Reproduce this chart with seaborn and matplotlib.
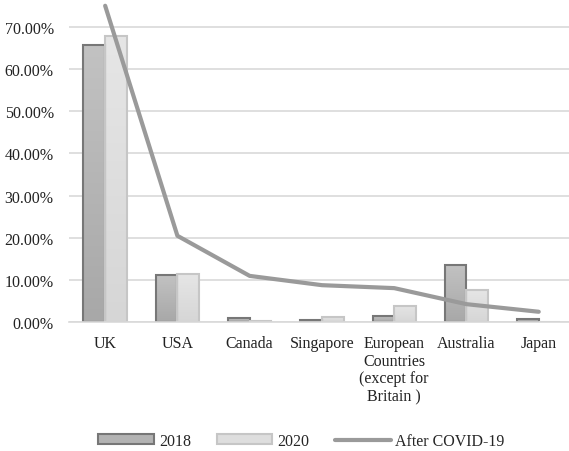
import numpy as np
import pandas as pd
import matplotlib
matplotlib.use("Agg")
import matplotlib.pyplot as plt
import seaborn as sns
from matplotlib.lines import Line2D
from matplotlib.patches import Patch
from matplotlib.colors import LinearSegmentedColormap

categories = ["UK", "USA", "Canada", "Singapore",
              "European\nCountries\n(except for\nBritain )", "Australia", "Japan"]
v2018 = [0.658, 0.112, 0.010, 0.005, 0.016, 0.136, 0.009]
v2020 = [0.679, 0.115, 0.003, 0.013, 0.039, 0.076, 0.000]
after_covid = [0.750, 0.205, 0.110, 0.088, 0.081, 0.043, 0.025]
series = ["2018", "2020"]

sns.set_theme(style="white")
plt.rcParams["font.family"] = ["Liberation Serif", "DejaVu Serif"]

df = pd.DataFrame({
    "cat": categories * 2,
    "year": ["2018"] * 7 + ["2020"] * 7,
    "val": v2018 + v2020,
})

fig = plt.figure(figsize=(5.69, 4.52), dpi=100)
ax = fig.add_axes([0.1213, 0.2847, 0.889, 0.7153])

palette = {"2018": "#b3b3b3", "2020": "#dedede"}
edges = {"2018": "#777777", "2020": "#c6c6c6"}
grads = {"2018": ("#c2c2c2", "#a8a8a8"), "2020": ("#e6e6e6", "#d6d6d6")}
sns.barplot(data=df, x="cat", y="val", hue="year", palette=palette,
            width=0.6, gap=0.0, ax=ax, legend=False, saturation=1)

ylim = (0, 0.766)
xlim = (-0.5, len(categories) - 0.5)
for cont, yr in zip(ax.containers, series):
    cmap = LinearSegmentedColormap.from_list("g" + yr, [grads[yr][1], grads[yr][0]])
    grad = np.linspace(0, 1, 64).reshape(-1, 1)
    for p in cont:
        x0, y0 = p.get_x(), p.get_y()
        w, h = p.get_width(), p.get_height()
        if h > 0:
            im = ax.imshow(grad, extent=[x0, x0 + w, y0, y0 + h], origin="lower",
                           aspect="auto", cmap=cmap, zorder=p.get_zorder(),
                           interpolation="bilinear")
            im.set_clip_path(p)
        p.set_facecolor("none")
        p.set_edgecolor(edges[yr])
        p.set_linewidth(1.5)
        p.set_zorder(p.get_zorder() + 0.1)

line_df = pd.DataFrame({"x": np.arange(len(categories)), "y": after_covid})
sns.lineplot(data=line_df, x="x", y="y", color="#9a9a9a", linewidth=3, ax=ax)
ax.lines[-1].set_zorder(5)

ax.set_ylim(*ylim)
ax.set_xlim(*xlim)
ticks = np.arange(0, 0.71, 0.1)
ax.set_yticks(ticks)
ax.set_yticklabels([f"{t*100:.2f}%" for t in ticks])
ax.yaxis.grid(True, color="#d9d9d9", linewidth=1.2)
ax.set_axisbelow(True)
for s in ["top", "right", "left"]:
    ax.spines[s].set_visible(False)
ax.spines["bottom"].set_color("#d9d9d9")
ax.spines["bottom"].set_linewidth(1.2)
ax.set_xlabel("")
ax.set_ylabel("")
ax.tick_params(axis="y", length=0, pad=11, labelsize=11.5, colors="#222222")
ax.tick_params(axis="x", length=0, pad=9, labelsize=11.5, colors="#222222")
for lab in ax.get_xticklabels():
    lab.set_linespacing(1.15)

handles = [Patch(facecolor=palette["2018"], edgecolor=edges["2018"], linewidth=1.5),
           Patch(facecolor=palette["2020"], edgecolor=edges["2020"], linewidth=1.5),
           Line2D([0], [0], color="#9a9a9a", linewidth=3)]
fig.legend(handles, ["2018", "2020", "After COVID-19"], loc="center",
           bbox_to_anchor=(0.53, 0.022), ncol=3, frameon=False, fontsize=11.5,
           handlelength=3.5, handleheight=0.6, handletextpad=0.3, columnspacing=1.6)

fig.savefig("out.png", dpi=100)
